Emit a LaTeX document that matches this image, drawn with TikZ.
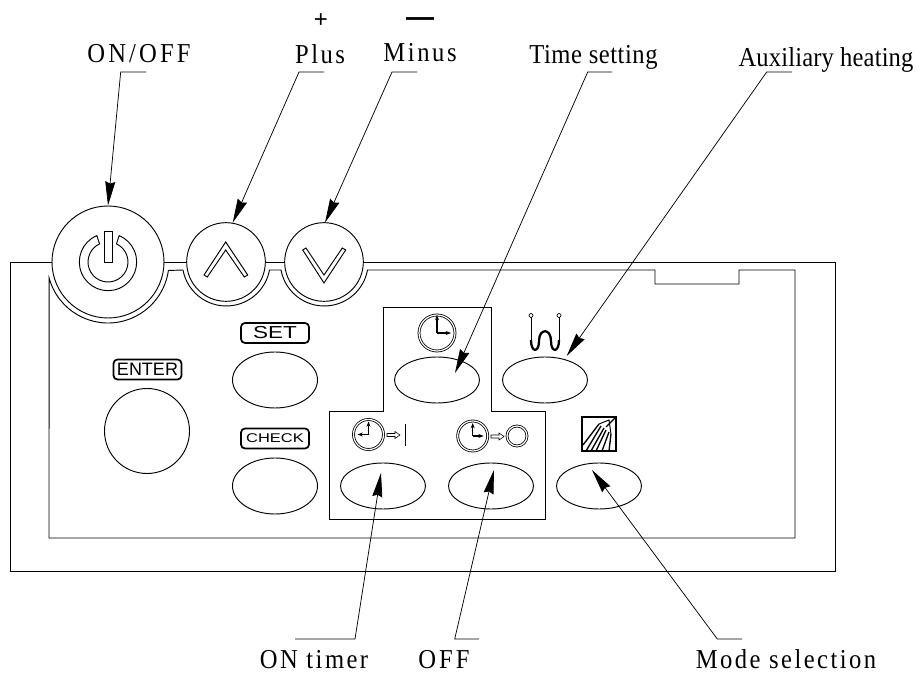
\documentclass[tikz,border=0pt]{standalone}
\usepackage{fontspec}
\usepackage{tikz}
\usetikzlibrary{arrows.meta, shapes.geometric}
\newfontfamily\lblfont[FakeStretch=0.9]{Liberation Serif}
\newfontfamily\panelfont[FakeStretch=1.3]{Liberation Sans}
\newfontfamily\signfont{Liberation Sans}

\begin{document}
\begin{tikzpicture}[x=.75pt, y=-.75pt, line width=.7pt,
  round/.style = {draw, circle, inner sep=0pt},
  keypad/.style = {draw, ellipse, inner sep=0pt, minimum width=63.75pt, minimum height=34.5pt},
  tallpad/.style = {keypad, minimum height=42pt},
  tag/.style = {draw, rounded corners=3pt, line width=1.3pt, minimum width=51pt, minimum height=15pt, inner sep=0pt},
  clock/.style = {draw, circle, inner sep=0pt, double, double distance=.9pt, line width=.6pt, minimum size=#1},
  hand/.style = {line width=.9pt, -{Stealth[length=4pt, width=3pt]}},
  lead/.style = {line width=.55pt, -{Stealth[length=18pt, width=7.5pt, inset=1.5pt]}},
  lbl/.style = {anchor=base, inner sep=0pt, font=\lblfont\fontsize{20.5pt}{21pt}\selectfont\addfontfeature{LetterSpace=#1}}]
\useasboundingbox (0,0) rectangle (922,673);

% buttons on top edge
\node[round, minimum size=84pt] (pwr) at (108,262) {};
\node[round, minimum size=59pt] (plus) at (226,262) {};
\node[round, minimum size=59pt] (minus) at (324,262) {};

% outer frame
\draw (pwr.west) -- (10,262) -- (10,571) -- (835,571) -- (835,262) -- (minus.east);
\draw (pwr.east) -- (plus.west);
\draw (plus.east) -- (minus.west);

% inner frame
\draw (49,538) -- ([shift={(195:45.75pt)}]pwr.center) arc[start angle=195, end angle=352, radius=45.75pt]
  -- (183,270) arc[start angle=190.5, end angle=349.5, radius=33pt]
  -- (281,270) arc[start angle=190.5, end angle=349.5, radius=33pt]
  -- (655,270) -- (655,284) -- (739,284) -- (739,270) -- (795,270) -- (795,538) -- cycle;

% power sign
\draw ([shift={(113:21.5pt)}]pwr.center) arc[start angle=113, end angle=427, radius=21.5pt]
  -- ([shift={(65:15pt)}]pwr.center) arc[start angle=425, end angle=115, radius=15pt] -- cycle;
\draw (104,231) rectangle (112,262);

% chevrons
\draw (225.7,242) -- (247.7,275) -- (244.3,277) -- (225.7,250) -- (207.3,277) -- (204,275) -- cycle;
\draw (324,283) -- (345.7,250) -- (342.3,248) -- (324,275) -- (306,248) -- (302.7,250) -- cycle;

% timer box
\draw (383,307) -- (491,307) -- (491,411) -- (545,411) -- (545,519) -- (329,519) -- (329,411) -- (383,411) -- cycle;

% keys
\node[round, minimum size=63.75pt] (enterkey) at (147,431) {};
\node[tallpad] (setkey) at (275,380) {};
\node[tallpad] (checkkey) at (275,486) {};
\node[keypad] (timekey) at (437,380) {};
\node[keypad] (heatkey) at (545,380) {};
\node[keypad] (onkey) at (383,486) {};
\node[keypad] (offkey) at (491,486) {};
\node[keypad] (modekey) at (599,486) {};

% tags
\node[tag, font=\panelfont\fontsize{13pt}{14pt}\selectfont] (settag) at (275,333) {SET};
\node[tag, font=\signfont\fontsize{13.5pt}{14pt}\selectfont] (entertag) at (147.5,369.5) {ENTER};
\node[tag, font=\panelfont\fontsize{9.5pt}{10pt}\selectfont] (checktag) at (275,438.5) {CHECK};

% clocks
\node[clock=27pt] (clocktime) at (437,333) {};
\node[clock=22.5pt] (clockon) at (368.5,434.5) {};
\node[clock=22.5pt] (clockoff) at (472.7,436) {};
\draw[hand] (clocktime.center) -- ++(0,-18);
\draw[hand] (clocktime.center) -- ++(14,0);
\draw[hand] (clockon.center) -- ++(0,-13);
\draw[hand] (clockon.center) -- ++(-11,0);
\draw[hand] (clockoff.center) -- ++(0,-13);
\draw[hand] (clockoff.center) -- ++(11,0);
\foreach \ax/\ay in {387/435, 491/436.5}
  \draw[line width=.4pt] (\ax,\ay-1.5) -- (\ax+8,\ay-1.5) -- (\ax+8,\ay-3.5) -- (\ax+13,\ay)
    -- (\ax+8,\ay+3.5) -- (\ax+8,\ay+1.5) -- (\ax,\ay+1.5) -- cycle;
\draw[line width=1.1pt] (405.7,424) -- (405.7,446);
\node[clock=15pt] (ringoff) at (517,436) {};

% heater
\draw (531,317) -- (531,340);
\draw (559,317) -- (559,340);
\draw[line width=.5pt] (531,315.5) circle[radius=1.5pt];
\draw[line width=.5pt] (559,315.5) circle[radius=1.5pt];
\draw[line width=1.7pt] (531,340) .. controls (531,353) and (539,353) .. (539,341)
  .. controls (539,328) and (551,328) .. (551,341) .. controls (551,353) and (559,353) .. (559,340);

% shower
\draw[line width=1.3pt] (582,417) rectangle (616,451);
\draw[line width=1pt] (615,418) -- (606,427);
\draw[line width=.7pt] (599,424) -- (609,420) -- (611,434);
\foreach \sx/\sy/\ex/\ey in {599/424/583/445, 601/426/586/451, 604/428/591/451, 606/430/596/451, 609/432/602/451, 611/434/609/451}
  \draw[line width=1pt] (\sx,\sy) -- (\ex,\ey);

% leaders
\coordinate (tipmode) at (592,470);
\coordinate (tipon) at (381,473);
\coordinate (tipoff) at (494,470);
\coordinate (tiptime) at (455,373);
\coordinate (tipheat) at (566.7,356);
\draw[lead] (146,72) -- (120.7,72) -- (pwr.north);
\draw[lead] (324,72) -- (299,72) -- (232.7,222.7);
\draw[lead] (417,72) -- (392,72) -- (325,222.7);
\draw[lead] (612,72) -- (587.7,72) -- (tiptime);
\draw[lead] (792,72) -- (766.7,72) -- (tipheat);
\draw[lead] (295,639) -- (355,639) -- (tipon);
\draw[lead] (479,639) -- (454.7,639) -- (tipoff);
\draw[lead] (742,639) -- (717.3,639) -- (tipmode);

% labels
\node[lbl=11.5] (lblonoff) at (139,63) {ON/OFF};
\node[lbl=9] (lblplus) at (320,64) {Plus};
\node[lbl=9.5] (lblminus) at (420,62) {Minus};
\node[lbl=2] (lbltime) at (593.5,64) {Time setting};
\node[lbl=0.5] (lblheat) at (826,67) {Auxiliary heating};
\node[lbl=9] (lblon) at (314,668) {ON timer};
\node[lbl=11] (lbloff) at (444,668) {OFF};
\node[lbl=9] (lblmode) at (786,668) {Mode selection};
\node[anchor=base, inner sep=0pt, font=\signfont\fontsize{18pt}{18pt}\selectfont] (signplus) at (321,28) {+};
\node[anchor=base, inner sep=0pt, font=\signfont\bfseries\fontsize{21pt}{21pt}\selectfont] (signminus) at (420,27) {—};
\end{tikzpicture}
\end{document}
